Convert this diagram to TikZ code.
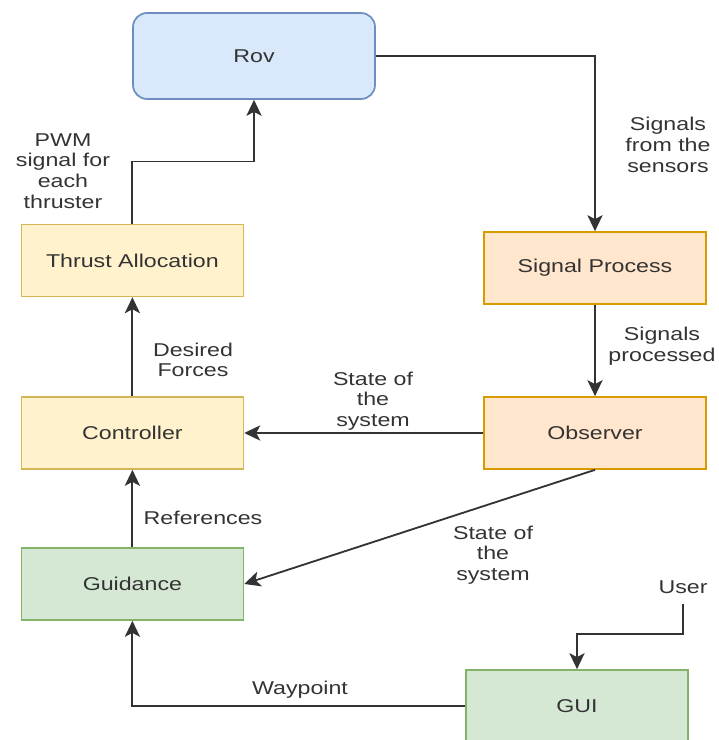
\documentclass[tikz,border=0pt]{standalone}
\usepackage{fontspec}
\setmainfont{Liberation Sans}[FakeStretch=1.25]
\usetikzlibrary{positioning,arrows.meta}

\definecolor{bluefill}{HTML}{DAE8FC}
\definecolor{bluedraw}{HTML}{6C8EBF}
\definecolor{yellowfill}{HTML}{FFF2CC}
\definecolor{yellowdraw}{HTML}{D6B656}
\definecolor{orangefill}{HTML}{FFE6CC}
\definecolor{orangedraw}{HTML}{D79B00}
\definecolor{greenfill}{HTML}{D5E8D4}
\definecolor{greendraw}{HTML}{82B366}
\definecolor{linegray}{HTML}{333333}

\tikzstyle{block} = [rectangle, minimum width=5.55cm, minimum height=1.8cm, text centered, line width=1.2pt, text=linegray]
\tikzstyle{rovbox} = [block, rounded corners=0.35cm, minimum width=6.05cm, minimum height=2.15cm, fill=bluefill, draw=bluedraw]
\tikzstyle{yellowbox} = [block, fill=yellowfill, draw=yellowdraw]
\tikzstyle{orangebox} = [block, fill=orangefill, draw=orangedraw]
\tikzstyle{greenbox} = [block, fill=greenfill, draw=greendraw]
\tikzstyle{lbl} = [align=center, text=linegray, inner sep=1pt]
\tikzstyle{arrow} = [line width=1.3pt, draw=linegray, ->, >={Stealth[length=0.4cm, width=0.38cm, inset=0.1cm]}]

\begin{document}
\begin{tikzpicture}[font=\fontsize{13.2}{14.7}\selectfont]
\useasboundingbox (0,0) rectangle (17.95,18.5);

\node (rov) [rovbox, xshift = 6.35cm, yshift = 17.1cm] {Rov};
\node (thrust) [yellowbox, xshift = 3.31cm, yshift = 11.99cm] {Thrust Allocation};
\node (sigproc) [orangebox, xshift = 14.875cm, yshift = 11.8cm] {Signal Process};
\node (ctrl) [yellowbox, xshift = 3.31cm, yshift = 7.675cm] {Controller};
\node (obs) [orangebox, xshift = 14.875cm, yshift = 7.675cm] {Observer};
\node (guid) [greenbox, xshift = 3.31cm, yshift = 3.9cm] {Guidance};
\node (gui) [greenbox, xshift = 14.425cm, yshift = 0.85cm] {GUI};
\node (user) [lbl, xshift = 17.075cm, yshift = 3.825cm] {User};

\node (pwm) [lbl, xshift = 1.575cm, yshift = 14.225cm] {PWM\\signal for\\each\\thruster};
\node (sensors) [lbl, xshift = 16.7cm, yshift = 14.875cm] {Signals\\from the\\sensors};
\node (processed) [lbl, xshift = 16.55cm, yshift = 9.85cm] {Signals\\processed};
\node (forces) [lbl, xshift = 4.825cm, yshift = 9.5cm] {Desired\\Forces};
\node (state1) [lbl, xshift = 9.325cm, yshift = 8.475cm] {State of\\the\\system};
\node (refs) [lbl, xshift = 5.075cm, yshift = 5.55cm] {References};
\node (state2) [lbl, xshift = 12.325cm, yshift = 4.625cm] {State of\\the\\system};
\node (wayp) [lbl, xshift = 7.5cm, yshift = 1.25cm] {Waypoint};

\draw [arrow] (rov.east) -| (sigproc.north);
\draw [arrow] (sigproc) -- (obs);
\draw [arrow] (obs) -- (ctrl);
\draw [arrow] (obs.south) -- (guid.east);
\draw [arrow] (guid) -- (ctrl);
\draw [arrow] (ctrl) -- (thrust);
\draw [arrow] (thrust.north) -- ++(0,1.55) -| (rov.south);
\draw [arrow] ([yshift=-6pt]user.south) -- ++(0,-0.75) -| (gui.north);
\draw [arrow] (gui.west) -| (guid.south);

\end{tikzpicture}
\end{document}
